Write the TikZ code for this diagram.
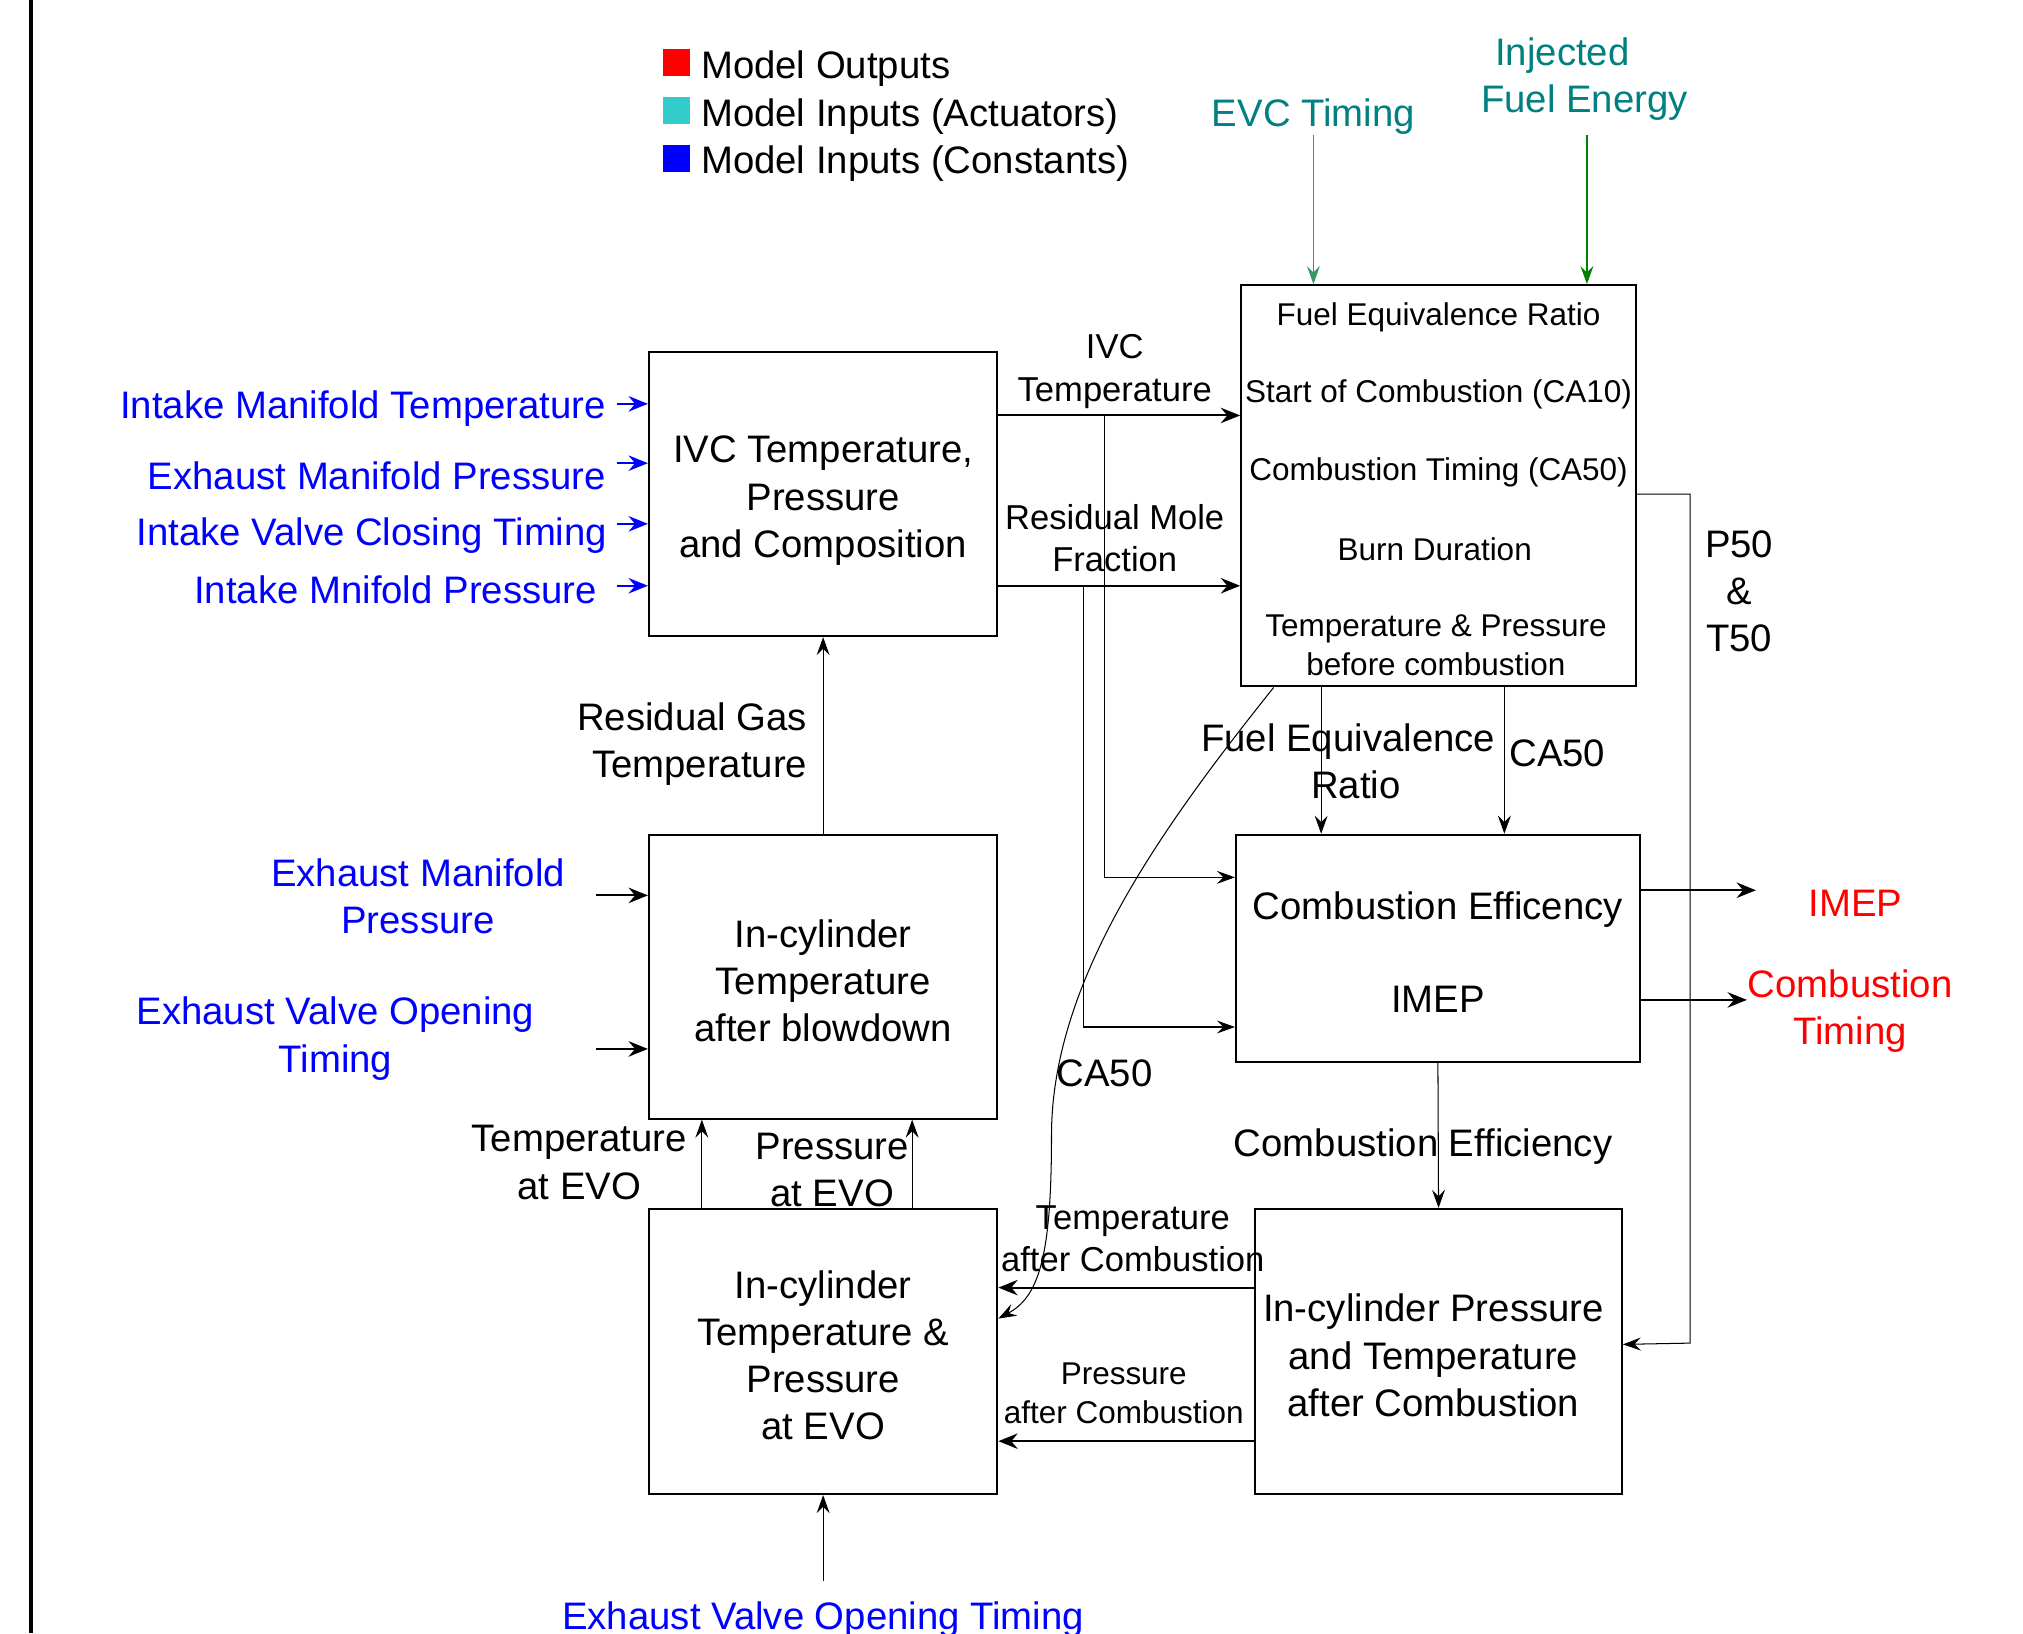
\documentclass[tikz,border=0pt]{standalone}
\usepackage{fontspec}
\setmainfont{Liberation Sans}
\usetikzlibrary{arrows.meta,calc}
\definecolor{mblue}{RGB}{0,0,255}
\definecolor{mred}{RGB}{255,0,0}
\definecolor{mteal}{RGB}{0,128,128}
\definecolor{msq}{RGB}{51,204,204}
\definecolor{evcg}{RGB}{51,153,102}
\definecolor{fuelg}{RGB}{0,128,0}
\newcommand{\fbig}{\fontsize{14.85pt}{18.25pt}\selectfont}
\newcommand{\fmid}{\fontsize{13.4pt}{16.5pt}\selectfont}
\newcommand{\fsml}{\fontsize{12.2pt}{15pt}\selectfont}
\begin{document}
\begin{tikzpicture}[x=0.5pt, y=-0.5pt,
  box/.style={draw, line width=0.8pt, inner sep=0pt},
  txt/.style={inner sep=0pt, align=center, font=\fbig, yshift=-1.5pt},
  thk/.style={line width=0.8pt, -{Stealth[length=7.5pt,width=6pt,inset=2.5pt]}},
  thn/.style={line width=0.4pt, -{Stealth[length=7pt,width=5pt,inset=2.5pt]}},
  sq/.style={minimum size=10.5pt, inner sep=0pt}
]
\useasboundingbox (0,0) rectangle (1568,1266);
% left bar
\draw[line width=1.8pt] (24,0) -- (24,1266);

% legend
\node[sq, fill=mred] (sq1) at (524.5,48.5) {};
\node[sq, fill=msq] (sq2) at (524.5,85.5) {};
\node[sq, fill=mblue] (sq3) at (524.5,122.5) {};
\node[txt, anchor=west] (lg1) at (543,50) {Model Outputs};
\node[txt, anchor=west] (lg2) at (543,87) {Model Inputs (Actuators)};
\node[txt, anchor=west] (lg3) at (543,124) {Model Inputs (Constants)};

% boxes
\node[box, minimum width=135pt, minimum height=110pt] (ivc) at (638,383) {};
\node[box, minimum width=135pt, minimum height=110pt] (blow) at (638,757) {};
\node[box, minimum width=135pt, minimum height=110.5pt] (evo) at (638,1047.5) {};
\node[box, minimum width=153pt, minimum height=155.5pt] (comb) at (1115,376.5) {};
\node[box, minimum width=156.5pt, minimum height=88pt] (eff) at (1114.5,735) {};
\node[box, minimum width=142pt, minimum height=110.5pt] (icp) at (1115,1047.5) {};

% box texts
\node[txt, yshift=-1pt] (ivcx) at (ivc) {IVC Temperature,\\Pressure\\and Composition};
\node[txt] (blowx) at (blow) {In-cylinder\\Temperature\\after blowdown};
\node[txt] (evox) at (evo) {In-cylinder\\Temperature \&\\Pressure\\at EVO};
\node[txt] (effx) at (eff) {Combustion Efficency\\[17.75pt]IMEP};
\node[txt, xshift=-2pt] (icpx) at (icp) {In-cylinder Pressure\\and Temperature\\after Combustion};

% comb box contents
\node[txt, font=\fsml] (c1) at (1115,243) {Fuel Equivalence Ratio};
\node[txt, font=\fsml] (c2) at (1115,303) {Start of Combustion (CA10)};
\node[txt, font=\fsml] (c3) at (1115,363) {Combustion Timing (CA50)};
\node[txt, font=\fsml] (c4) at (1112,423) {Burn Duration};
\node[txt, font=\fsml] (c5) at (1113,497) {Temperature \& Pressure\\before combustion};

% actuator inputs
\node[txt, text=mteal] (evc) at (1018,87) {EVC Timing};
\node[txt, text=mteal] (inj) at (1228,58) {Injected\hspace*{17pt}\\Fuel Energy};
\coordinate (evcs) at (1018,105);
\coordinate (injs) at (1230,105);
\draw[thn, draw=evcg, fill=evcg, line width=0.55pt] (evcs) -- (evcs |- comb.north);
\draw[thn, draw=fuelg, fill=fuelg, line width=0.65pt] (injs) -- (injs |- comb.north);

% constant inputs to IVC box
\node[txt, text=mblue, anchor=east] (l1) at (470,314) {Intake Manifold Temperature};
\node[txt, text=mblue, anchor=east] (l2) at (470,366) {Exhaust Manifold Pressure};
\node[txt, text=mblue, anchor=east] (l3) at (471,412) {Intake Valve Closing Timing};
\node[txt, text=mblue, anchor=east] (l4) at (463,454) {Intake Mnifold Pressure};
\draw[thk, draw=mblue, fill=mblue] (478,313) -- (ivc.west |- 0,313);
\draw[thk, draw=mblue, fill=mblue] (478,359) -- (ivc.west |- 0,359);
\draw[thk, draw=mblue, fill=mblue] (478,406) -- (ivc.west |- 0,406);
\draw[thk, draw=mblue, fill=mblue] (478,454) -- (ivc.west |- 0,454);

% constant inputs to blowdown box
\node[txt, text=mblue] (emp) at (324,692) {Exhaust Manifold\\Pressure};
\node[txt, text=mblue] (evot) at (260,802) {Exhaust Valve Opening\\Timing};
\draw[thk] (462,694) -- (blow.west |- 0,694);
\draw[thk] (462,813) -- (blow.west |- 0,813);

% bottom input
\node[txt, text=mblue] (evob) at (638,1252) {Exhaust Valve Opening Timing};
\coordinate (evobt) at (638,1225);
\draw[thn] (evobt) -- (evo.south);

% IVC -> comb
\draw[thk] (ivc.east |- 0,322) -- (comb.west |- 0,322);
\draw[thk] (ivc.east |- 0,454) -- (comb.west |- 0,454);
\node[txt, font=\fmid] (ivct) at (864,285) {IVC\\Temperature};
\node[txt, font=\fmid] (rmf) at (864,414) {Residual Mole\\Fraction};
\coordinate (j1) at (856,322);
\coordinate (j2) at (840,454);
\draw[thn] (j1) |- (eff.west |- 0,680);
\draw[thn] (j2) |- (eff.west |- 0,796);

% blowdown -> IVC
\draw[thn] (blow.north) -- (ivc.south);
\node[txt, align=right, anchor=east] (rgt) at (626,574) {Residual Gas\\Temperature};

% comb -> eff
\draw[thn] (comb.south -| 1024,0) -- (eff.north -| 1024,0);
\draw[thn] (comb.south -| 1166,0) -- (eff.north -| 1166,0);
\node[txt] (fer) at (1045,587) {Fuel Equivalence\\\hspace*{6pt}Ratio};
\node[txt] (ca50a) at (1207,581) {CA50};

% outputs
\coordinate (o1) at (1361,690);
\coordinate (o2) at (1354,775);
\draw[thk] (eff.east |- o1) -- (o1);
\draw[thk] (eff.east |- o2) -- (o2);
\node[txt, text=mred] (imep) at (1438,697) {IMEP};
\node[txt, text=mred] (ct) at (1434,781) {Combustion\\Timing};

% P50 & T50
\coordinate (pa) at (1310,383);
\coordinate (pb) at (1310,1041);
\draw[thn] (comb.east |- pa) -- (pa) -- (pb) -- (icp.east |- 0,1042);
\node[txt] (p50) at (1348,455) {P50\\\&\\T50};

% eff -> icp
\draw[thn] (eff.south) -- (icp.north);
\node[txt] (cel) at (1103,886) {Combustion Efficiency};

% icp -> evo
\draw[thk] (icp.west |- 0,998) -- (evo.east |- 0,998);
\draw[thk] (icp.west |- 0,1117) -- (evo.east |- 0,1117);
\node[txt, font=\fmid] (tac) at (878,957) {Temperature\\after Combustion};
\node[txt, font=\fsml] (pac) at (871,1077) {Pressure\\after Combustion};

% evo -> blowdown
\draw[thn] (evo.north -| 544,0) -- (blow.south -| 544,0);
\draw[thn] (evo.north -| 707,0) -- (blow.south -| 707,0);
\node[txt] (tevo) at (449,898) {Temperature\\at EVO};
\node[txt] (pevo) at (645,904) {Pressure\\at EVO};

% CA50 curve
\draw[thn] ($(comb.south west)+(26,0)$) .. controls (900,642) and (815,760) .. (815,880)
  .. controls (815,975) and (805,1005) .. (evo.east |- 0,1022);
\node[txt] (ca50b) at (856,829) {CA50};
\end{tikzpicture}
\end{document}
